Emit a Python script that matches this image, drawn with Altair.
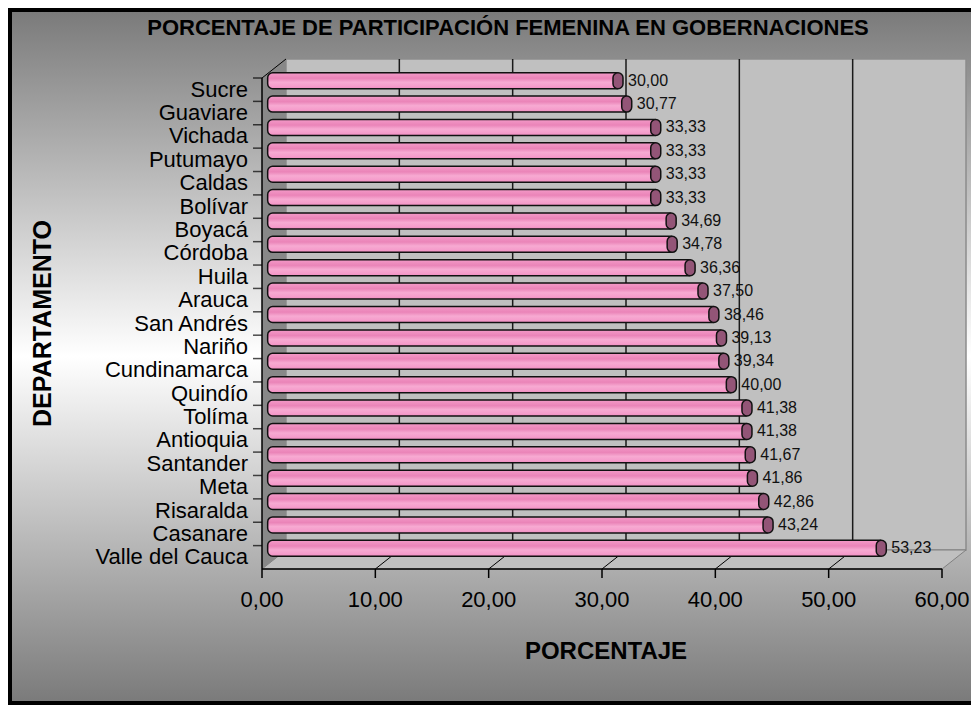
import altair as alt
import pandas as pd

# ---------------- data ----------------
departamentos = ["Sucre", "Guaviare", "Vichada", "Putumayo", "Caldas", "Bolívar",
                 "Boyacá", "Córdoba", "Huila", "Arauca", "San Andrés", "Nariño",
                 "Cundinamarca", "Quindío", "Tolíma", "Antioquia", "Santander",
                 "Meta", "Risaralda", "Casanare", "Valle del Cauca"]
porcentajes = [30.00, 30.77, 33.33, 33.33, 33.33, 33.33, 34.69, 34.78, 36.36, 37.50,
               38.46, 39.13, 39.34, 40.00, 41.38, 41.38, 41.67, 41.86, 42.86, 43.24, 53.23]
x_ticks = [0, 10, 20, 30, 40, 50, 60]
grid_values = [10, 20, 30, 40, 50]
titulo = "PORCENTAJE DE PARTICIPACIÓN FEMENINA EN GOBERNACIONES"
titulo_x = "PORCENTAJE"
titulo_y = "DEPARTAMENTO"

df = pd.DataFrame({"dept": departamentos, "pct": porcentajes})
grid_df = pd.DataFrame({"v": grid_values})
ticks_df = pd.DataFrame({"v": x_ticks})
one = pd.DataFrame({"k": [0]})

# ---------------- layout ----------------
W, H = 680, 491
DX, DY = 24, 19          # 3D depth offset
PAD_L, PAD_T, PAD_R, PAD_B = 254, 70, 29, 136
STEP = H / len(departamentos)
FONT = "Liberation Sans"

x_scale = alt.Scale(domain=[0, 60], nice=False, zero=True)
y_scale = alt.Scale(paddingInner=0, paddingOuter=0)

X = lambda f: alt.X(f, scale=x_scale, axis=None)
Y = alt.Y("dept:N", sort=departamentos, scale=y_scale, axis=None)

# ---------------- decorations ----------------
bg = alt.Chart(one).mark_rect(
    fill=alt.LinearGradient(gradient="linear",
                            stops=[alt.GradientStop(color="#7a7a7a", offset=0),
                                   alt.GradientStop(color="#ffffff", offset=0.5),
                                   alt.GradientStop(color="#7a7a7a", offset=1)],
                            x1=0, x2=0, y1=0, y2=1),
    stroke="black", strokeWidth=4
).encode(x=alt.value(-PAD_L + 2), x2=alt.value(W + PAD_R + 20),
         y=alt.value(-PAD_T + 2), y2=alt.value(H + PAD_B - 2))

back_wall = alt.Chart(one).mark_rect(fill="#c0c0c0", stroke="#8c8c8c", strokeWidth=1.5).encode(
    x=alt.value(DX), x2=alt.value(W + DX), y=alt.value(-DY), y2=alt.value(H - DY))

grid = alt.Chart(grid_df).mark_rule(color="#1a1a1a", strokeWidth=1.5, xOffset=DX).encode(
    x=X("v:Q"), y=alt.value(-DY), y2=alt.value(H - DY))

floor = alt.Chart(one).mark_point(
    shape=f"M0,{H}L{DX},{H-DY}L{W+DX},{H-DY}L{W},{H}Z",
    size=4, filled=True, fill="#c0c0c0", stroke="#808080", strokeWidth=1, opacity=1
).encode(x=alt.value(0), y=alt.value(0))

floor_lines = alt.Chart(grid_df).mark_rule(color="black", strokeWidth=1, x2Offset=DX).encode(
    x=X("v:Q"), x2=alt.X2("v"), y=alt.value(H), y2=alt.value(H - DY))

left_wall = alt.Chart(one).mark_point(
    shape=f"M0,0L{DX},{-DY}L{DX},{H-DY}L0,{H}Z",
    size=4, filled=True, fill="#888888", strokeWidth=0, opacity=1
).encode(x=alt.value(0), y=alt.value(0))

wall_edge = alt.Chart(one).mark_rule(color="black", strokeWidth=1).encode(
    x=alt.value(0), x2=alt.value(DX), y=alt.value(0), y2=alt.value(-DY))

# ---------------- axes (drawn above the gradient background) ----------------
y_domain = alt.Chart(one).mark_rule(color="black", strokeWidth=1.5).encode(
    x=alt.value(0), y=alt.value(0), y2=alt.value(H))
x_domain = alt.Chart(one).mark_rule(color="black", strokeWidth=1.5).encode(
    x=alt.value(0), x2=alt.value(W), y=alt.value(H))

y_ticks = alt.Chart(df).mark_tick(color="black", thickness=1.5, size=9,
                                  orient="horizontal", xOffset=-4.5,
                                  yOffset=-STEP / 2).encode(
    x=alt.value(0), y=Y)
y_labels = alt.Chart(df).mark_text(align="right", baseline="middle", fontSize=22,
                                   font=FONT, color="black").encode(
    x=alt.value(-14), y=Y, text="dept:N")

x_tick_marks = alt.Chart(ticks_df).mark_rule(color="black", strokeWidth=1.5).encode(
    x=X("v:Q"), y=alt.value(H), y2=alt.value(H + 9))
x_tick_labels = alt.Chart(ticks_df).transform_calculate(
    lbl="replace(format(datum.v, '.2f'), '.', ',')"
).mark_text(align="center", baseline="middle", fontSize=22, font=FONT,
            color="black").encode(
    x=X("v:Q"), y=alt.value(H + 31), text="lbl:N")

x_title = alt.Chart(one).mark_text(
    text=titulo_x, fontSize=24, fontWeight="bold", font=FONT, color="black",
    align="center", baseline="middle").encode(x=alt.value(344), y=alt.value(H + 83))
y_title = alt.Chart(one).mark_text(
    text=titulo_y, fontSize=25, fontWeight="bold", font=FONT, color="black",
    align="center", baseline="middle", angle=270).encode(
    x=alt.value(-219), y=alt.value(H / 2))

# ---------------- bars ----------------
bar_fill = alt.LinearGradient(gradient="linear",
                              stops=[alt.GradientStop(color="#f49ac8", offset=0),
                                     alt.GradientStop(color="#ea84b8", offset=0.35),
                                     alt.GradientStop(color="#f7aad2", offset=0.6),
                                     alt.GradientStop(color="#f59ccb", offset=0.85),
                                     alt.GradientStop(color="#ee8cbf", offset=1)],
                              x1=0, x2=0, y1=0, y2=1)

bars = alt.Chart(df).mark_bar(
    size=16, yOffset=-9, xOffset=15, fill=bar_fill, stroke="#111111", strokeWidth=1.5,
    cornerRadiusTopLeft=5, cornerRadiusBottomLeft=5
).encode(x=X("pct:Q"), x2=alt.datum(0.5), y=Y)

caps = alt.Chart(df).mark_bar(
    size=16, yOffset=-9, xOffset=11, x2Offset=21, fill="#935577",
    stroke="#111111", strokeWidth=1.5, cornerRadius=5
).encode(x=X("pct:Q"), x2=alt.X2("pct"), y=Y)

labels = alt.Chart(df).transform_calculate(
    lbl="replace(format(datum.pct, '.2f'), '.', ',')"
).mark_text(align="left", baseline="middle", xOffset=26, yOffset=-9,
            fontSize=16, font=FONT, color="#111111").encode(
    x=X("pct:Q"), y=Y, text="lbl:N")

title = alt.Chart(one).mark_text(
    text=titulo, fontSize=22, fontWeight="bold", font=FONT, color="black",
    align="center", baseline="middle"
).encode(x=alt.value(246), y=alt.value(-50))

chart = alt.layer(
    bg, back_wall, grid, floor, floor_lines, left_wall, wall_edge,
    y_domain, x_domain, y_ticks, y_labels, x_tick_marks, x_tick_labels,
    x_title, y_title, bars, caps, labels, title
).properties(
    width=W, height=H,
    autosize=alt.AutoSizeParams(type="none"),
    padding={"left": PAD_L, "top": PAD_T, "right": PAD_R, "bottom": PAD_B}
).configure_view(strokeWidth=0)

chart.save("out.html", embed_options={"renderer": "svg", "actions": False})
